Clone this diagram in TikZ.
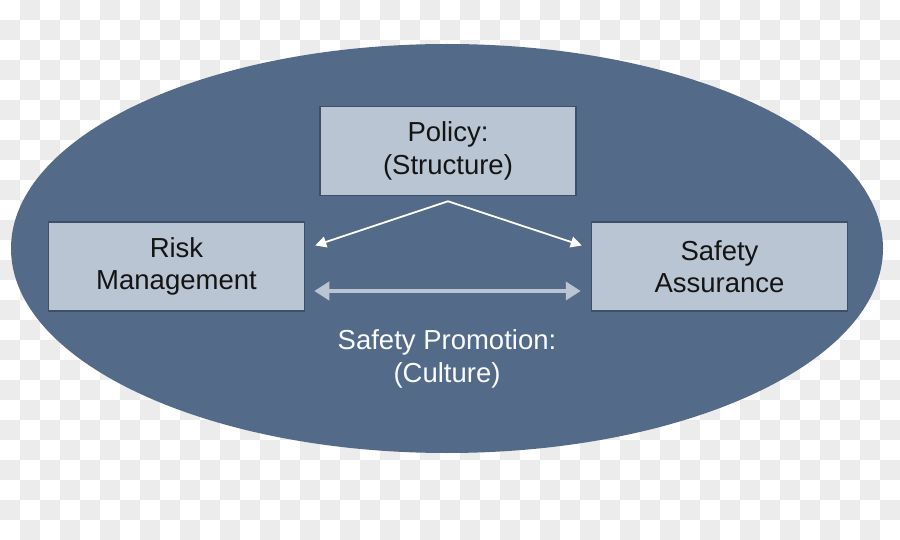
\documentclass[tikz,border=0pt]{standalone}
\usepackage{fontspec}
\setmainfont{Liberation Sans}
\usetikzlibrary{arrows.meta}
\definecolor{ovalblue}{HTML}{536A88}
\definecolor{boxfill}{HTML}{B9C5D3}
\definecolor{boxline}{HTML}{3E5069}
\definecolor{checkgray}{HTML}{ECECEC}
\begin{document}
\begin{tikzpicture}[x=1pt,y=-1pt,
  block/.style={draw=boxline,line width=1.5pt,fill=boxfill,minimum width=256pt,minimum height=89pt,align=center,text=black!92,font=\fontsize{27.5}{32.5}\selectfont},
  caption/.style={align=center,text=white!95!boxfill,font=\fontsize{27.5}{32.5}\selectfont},
  link/.style={-{Triangle[length=11pt,width=11pt]},white,line width=1.8pt},
  both/.style={{Triangle[length=15pt,width=18pt]}-{Triangle[length=15pt,width=18pt]},boxfill,line width=4pt}]
\useasboundingbox (0,0) rectangle (900,540);
% checkerboard background
\fill[white] (0,0) rectangle (900,540);
\foreach \i in {0,...,44}
  \foreach \j in {0,...,26}
    {\pgfmathparse{int(mod(\i+\j,2))}
     \ifnum\pgfmathresult=1 \fill[checkgray] (20*\i,20*\j) rectangle ++(20,20); \fi}

\fill[ovalblue] (447,248.5) ellipse [x radius=436pt, y radius=204.5pt];

\node (P) at (448,151) [block] {Policy:\\(Structure)};
\node (RM) at (176.5,266.5) [block] {Risk\\Management};
\node (SA) at (719.5,266.5) [block] {Safety\\Assurance};
\node (SP) at (447,359) [caption] {Safety Promotion:\\(Culture)};

\coordinate (apex) at ([yshift=-5pt]P.south);
\coordinate (rmtip) at ([xshift=10pt,yshift=21pt]RM.east);
\coordinate (satip) at ([xshift=-9pt,yshift=21pt]SA.west);
\draw[link] (apex) -- (rmtip);
\draw[link] (apex) -- (satip);

\coordinate (rmend) at ([xshift=9pt,yshift=-24.5pt]RM.east);
\coordinate (saend) at ([xshift=-10pt,yshift=-24.5pt]SA.west);
\draw[both] (rmend) -- (saend);
\end{tikzpicture}
\end{document}
